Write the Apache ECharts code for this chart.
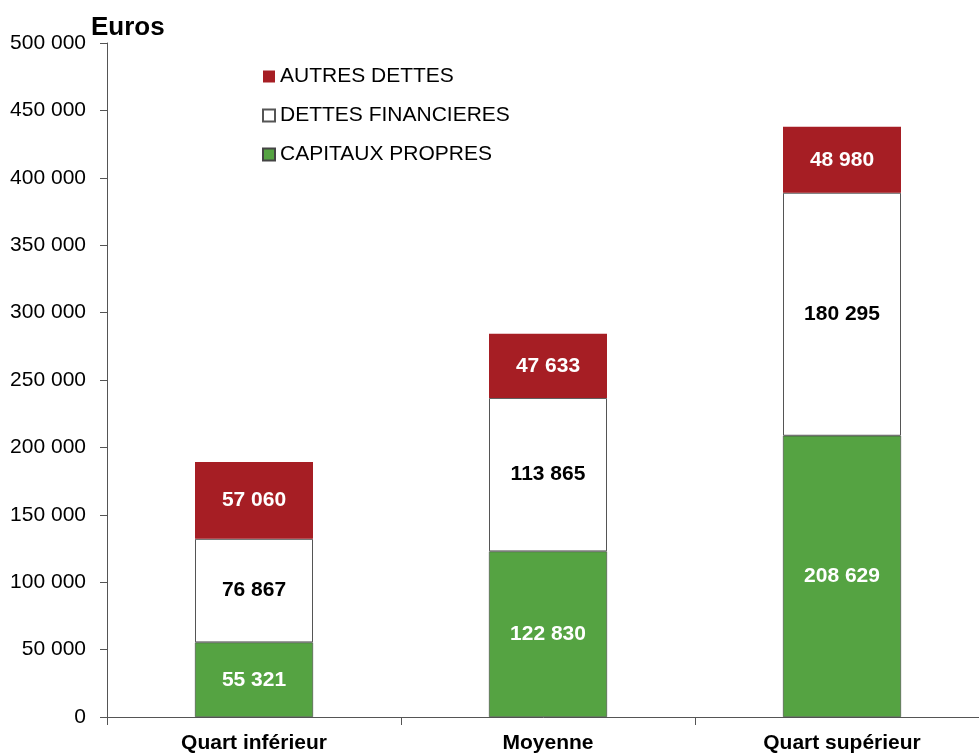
<!DOCTYPE html>
<html><head><meta charset="utf-8">
<script src="https://cdn.jsdelivr.net/npm/echarts@6/dist/echarts.min.js"></script>
<style>html,body{margin:0;padding:0;background:#fff}#c{width:979px;height:754px}</style>
</head><body><div id="c"></div>
<script>
const categories = ['Quart inférieur', 'Moyenne', 'Quart supérieur'];
const capitauxPropres = [55321, 122830, 208629];
const dettesFinancieres = [76867, 113865, 180295];
const autresDettes = [57060, 47633, 48980];
const yTicks = [0, 50000, 100000, 150000, 200000, 250000, 300000, 350000, 400000, 450000, 500000];

const fmt = v => String(v).replace(/\B(?=(\d{3})+(?!\d))/g, ' ');
const FONT = '"Liberation Sans", Arial, sans-serif';
const chart = echarts.init(document.getElementById('c'));
function lbl(color) {
  return { show: true, position: 'inside', color: color, fontFamily: FONT, fontWeight: 'bold', fontSize: 21,
    formatter: p => fmt(p.value) };
}
chart.setOption({
  animation: false,
  textStyle: { fontFamily: FONT },
  title: { text: 'Euros', left: 86, top: 10, textStyle: { fontFamily: FONT, fontWeight: 'bold', fontSize: 26, color: '#000' } },
  legend: {
    orient: 'vertical', left: 257, top: 61, itemGap: 18, itemWidth: 12, itemHeight: 12,
    data: ['AUTRES DETTES', 'DETTES FINANCIERES', 'CAPITAUX PROPRES'],
    textStyle: { fontFamily: FONT, fontSize: 21, color: '#000', padding: [0, 0, 0, 0] },
    icon: 'rect'
  },
  grid: { left: 107, top: 43, bottom: 37, width: 882, outerBoundsMode: 'none', containLabel: false },
  xAxis: {
    type: 'category', data: categories,
    axisLine: { lineStyle: { color: '#555', width: 1 } },
    axisTick: { show: true, length: 8, lineStyle: { color: '#555' } },
    axisLabel: { color: '#000', fontFamily: FONT, fontWeight: 'bold', fontSize: 21, margin: 16 }
  },
  yAxis: {
    type: 'value', min: 0, max: 500000, interval: 50000,
    axisLine: { show: true, lineStyle: { color: '#555', width: 1 } },
    axisTick: { show: true, length: 7, lineStyle: { color: '#555' } },
    splitLine: { show: false },
    axisLabel: { color: '#000', fontFamily: FONT, fontSize: 21, margin: 21,
      formatter: v => yTicks.includes(v) ? fmt(v) : '' }
  },
  series: [
    { name: 'CAPITAUX PROPRES', type: 'bar', stack: 's', barWidth: 118, data: capitauxPropres,
      itemStyle: { color: '#55A342', borderColor: '#444', borderWidth: 0.6 }, label: lbl('#fff') },
    { name: 'DETTES FINANCIERES', type: 'bar', stack: 's', data: dettesFinancieres,
      itemStyle: { color: '#fff', borderColor: '#555', borderWidth: 1 }, label: lbl('#000') },
    { name: 'AUTRES DETTES', type: 'bar', stack: 's', data: autresDettes,
      itemStyle: { color: '#A61E24', borderColor: '#A61E24', borderWidth: 0 }, label: lbl('#fff') }
  ]
});
</script></body></html>
